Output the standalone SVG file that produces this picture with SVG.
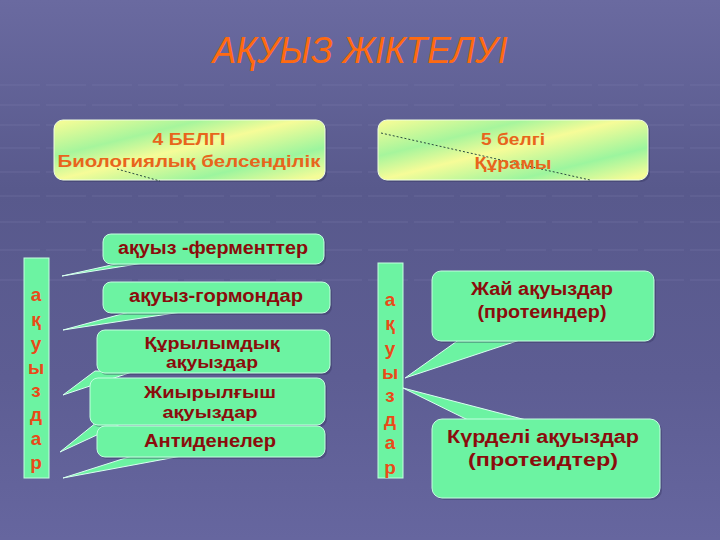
<svg xmlns="http://www.w3.org/2000/svg" width="720" height="540" viewBox="0 0 720 540">
<defs>
<linearGradient id="bg" x1="0" y1="0" x2="0" y2="1">
<stop offset="0" stop-color="#6a6aa0"/>
<stop offset="0.35" stop-color="#58598c"/>
<stop offset="0.7" stop-color="#5d5d93"/>
<stop offset="1" stop-color="#66669f"/>
</linearGradient>
<linearGradient id="yg" x1="0" y1="0" x2="1" y2="0.9">
<stop offset="0" stop-color="#fbfd96"/>
<stop offset="0.3" stop-color="#a6f59c"/>
<stop offset="0.5" stop-color="#f6fc98"/>
<stop offset="0.78" stop-color="#9cf59e"/>
<stop offset="1" stop-color="#f4fc98"/>
</linearGradient>
<style>
.call{fill:#6cf3a2;stroke:#c4ffe0;stroke-width:1}
.tail{fill:#6cf3a2;stroke:#d8fff0;stroke-width:1}
.shd{fill:#2e2e55;opacity:0.35}
.ct{font-family:"Liberation Sans","DejaVu Sans",Arial,sans-serif;font-weight:bold;font-size:18px;fill:#8a0c0c;text-anchor:middle}
.c2{font-size:16px}
.ot{font-family:"Liberation Sans","DejaVu Sans",Arial,sans-serif;font-weight:bold;font-size:17px;fill:#e8651c;text-anchor:middle}
.vt{font-family:"Liberation Sans","DejaVu Sans",Arial,sans-serif;font-weight:bold;font-size:19px;fill:#ea4a18;text-anchor:middle}
.grid{stroke:#8888b8;stroke-width:1;opacity:0.3;stroke-dasharray:40 6}
</style>
</defs>
<rect width="720" height="540" fill="url(#bg)"/>
<g id="bg-grid">
<line class="grid" x1="0" y1="85" x2="720" y2="85"/>
<line class="grid" x1="0" y1="105" x2="720" y2="105"/>
<line class="grid" x1="0" y1="125" x2="720" y2="125"/>
<line class="grid" x1="0" y1="148" x2="720" y2="148"/>
<line class="grid" x1="0" y1="172" x2="720" y2="172"/>
<line class="grid" x1="0" y1="196" x2="720" y2="196"/>
<line class="grid" x1="0" y1="222" x2="720" y2="222"/>
<line class="grid" x1="0" y1="250" x2="720" y2="250"/>
<line class="grid" x1="0" y1="280" x2="720" y2="280"/>
</g>
<g id="title">
<text x="360" y="63" font-family="'Liberation Sans','DejaVu Sans',Arial,sans-serif" font-style="italic" font-size="36" fill="#ff6a10" text-anchor="middle" textLength="295" lengthAdjust="spacingAndGlyphs">АҚУЫЗ ЖІКТЕЛУІ</text>
</g>
<g id="connectors">
<line x1="117" y1="169" x2="160" y2="181" stroke="#2a4a40" stroke-width="1" stroke-dasharray="2 2"/>
<line x1="381" y1="133" x2="590" y2="180" stroke="#2a4a40" stroke-width="1" stroke-dasharray="2 2"/>
</g>
<g id="box-biology">
<rect x="56" y="122" width="271" height="60" rx="9" class="shd"/>
<rect x="54" y="120" width="271" height="60" rx="9" fill="url(#yg)" stroke="#f0ffe0" stroke-width="1"/>
<line x1="117" y1="169" x2="160" y2="181" stroke="#2a4a40" stroke-width="1" stroke-dasharray="2 2"/>
<text class="ot" x="189" y="145" textLength="73" lengthAdjust="spacingAndGlyphs">4 БЕЛГІ</text>
<text class="ot" x="189" y="167" textLength="263" lengthAdjust="spacingAndGlyphs">Биологиялық  белсенділік</text>
</g>
<g id="box-composition">
<rect x="380" y="122" width="270" height="60" rx="9" class="shd"/>
<rect x="378" y="120" width="270" height="60" rx="9" fill="url(#yg)" stroke="#f0ffe0" stroke-width="1"/>
<line x1="381" y1="133" x2="590" y2="180" stroke="#2a4a40" stroke-width="1" stroke-dasharray="2 2"/>
<text class="ot" x="513" y="145" textLength="64" lengthAdjust="spacingAndGlyphs">5 белгі</text>
<text class="ot" x="513" y="169" textLength="77" lengthAdjust="spacingAndGlyphs">Құрамы</text>
</g>
<g id="left-bar">
<rect x="24" y="258" width="25" height="220" fill="#6cf3a2" stroke="#c4ffe0" stroke-width="1"/>
<text class="vt" x="36" y="301">а</text>
<text class="vt" x="36" y="326">қ</text>
<text class="vt" x="36" y="350">у</text>
<text class="vt" x="36" y="374">ы</text>
<text class="vt" x="36" y="397">з</text>
<text class="vt" x="36" y="421">д</text>
<text class="vt" x="36" y="445">а</text>
<text class="vt" x="36" y="469">р</text>
</g>
<g id="right-bar">
<rect x="378" y="263" width="25" height="215" fill="#6cf3a2" stroke="#c4ffe0" stroke-width="1"/>
<text class="vt" x="390" y="306">а</text>
<text class="vt" x="390" y="330">қ</text>
<text class="vt" x="390" y="355">у</text>
<text class="vt" x="390" y="379">ы</text>
<text class="vt" x="390" y="402">з</text>
<text class="vt" x="390" y="426">д</text>
<text class="vt" x="390" y="449">а</text>
<text class="vt" x="390" y="474">р</text>
</g>
<g id="enzymes">
<polygon class="tail" points="125,262 150,262 62,276"/>
<rect x="105" y="236" width="221" height="30" rx="8" class="shd"/>
<rect x="103" y="234" width="221" height="30" rx="8" class="call"/>
<text class="ct" x="213" y="254" textLength="190" lengthAdjust="spacingAndGlyphs">ақуыз -ферменттер</text>
</g>
<g id="hormones">
<polygon class="tail" points="133,311 188,311 63,330"/>
<rect x="105" y="284" width="227" height="31" rx="8" class="shd"/>
<rect x="103" y="282" width="227" height="31" rx="8" class="call"/>
<text class="ct" x="216" y="302" textLength="174" lengthAdjust="spacingAndGlyphs">ақуыз-гормондар</text>
</g>
<g id="structural">
<polygon class="tail" points="95,371 135,371 63,395"/>
<rect x="99" y="332" width="233" height="43" rx="8" class="shd"/>
<rect x="97" y="330" width="233" height="43" rx="8" class="call"/>
<text class="ct c2" x="212" y="349" textLength="135" lengthAdjust="spacingAndGlyphs">Құрылымдық</text>
<text class="ct c2" x="212" y="368" textLength="92" lengthAdjust="spacingAndGlyphs">ақуыздар</text>
</g>
<g id="contractile">
<polygon class="tail" points="97,422 125,422 60,452"/>
<rect x="92" y="380" width="235" height="47" rx="8" class="shd"/>
<rect x="90" y="378" width="235" height="47" rx="8" class="call"/>
<text class="ct c2" x="210" y="398" textLength="132" lengthAdjust="spacingAndGlyphs">Жиырылғыш</text>
<text class="ct c2" x="210" y="418" textLength="95" lengthAdjust="spacingAndGlyphs">ақуыздар</text>
</g>
<g id="antibodies">
<polygon class="tail" points="135,455 187,455 63,478"/>
<rect x="99" y="428" width="228" height="31" rx="8" class="shd"/>
<rect x="97" y="426" width="228" height="31" rx="8" class="call"/>
<text class="ct" x="210" y="447" textLength="132" lengthAdjust="spacingAndGlyphs">Антиденелер</text>
</g>
<g id="simple-proteins">
<polygon class="tail" points="460,339 523,339 405,378"/>
<rect x="434" y="273" width="222" height="70" rx="9" class="shd"/>
<rect x="432" y="271" width="222" height="70" rx="9" class="call"/>
<text class="ct" x="542" y="295" textLength="142" lengthAdjust="spacingAndGlyphs">Жай ақуыздар</text>
<text class="ct" x="542" y="318" textLength="129" lengthAdjust="spacingAndGlyphs">(протеиндер)</text>
</g>
<g id="complex-proteins">
<polygon class="tail" points="470,421 530,421 403,388"/>
<rect x="434" y="421" width="228" height="79" rx="10" class="shd"/>
<rect x="432" y="419" width="228" height="79" rx="10" class="call"/>
<text class="ct" x="543" y="443" textLength="192" lengthAdjust="spacingAndGlyphs">Күрделі ақуыздар</text>
<text class="ct" x="543" y="466" textLength="150" lengthAdjust="spacingAndGlyphs">(протеидтер)</text>
</g>
</svg>
